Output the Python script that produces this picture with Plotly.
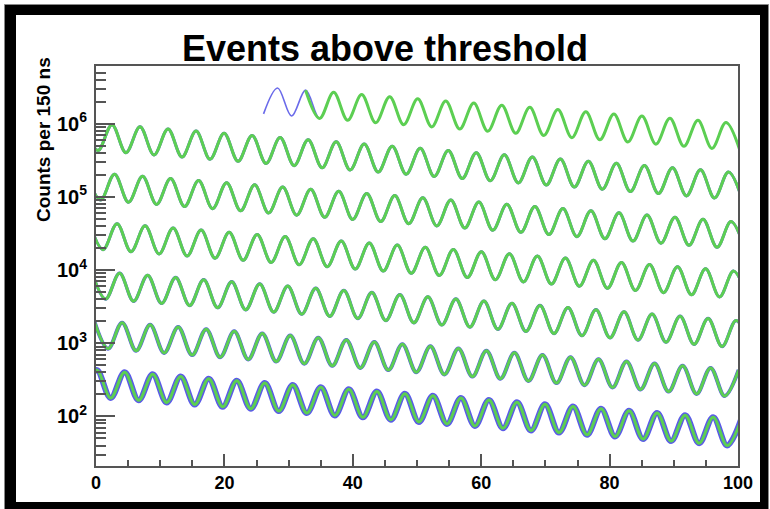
import plotly.graph_objects as go

# ---- data ------------------------------------------------------------------
# Counts per 150 ns at successive maxima / minima of the wiggle,
# one continuous time series wrapped every 100 us (rows 0..6 from top).
wrap_us = 100.0
period_us = 4.365            # time between two maxima
first_trough_us = 26.10      # first recorded extremum (a minimum)
fit_start_us = 32.65         # fit curve (green) drawn from here on

peak_counts = [
    # row 0
    3.07e6, 2.87e6, 2.68e6, 2.50e6, 2.34e6, 2.19e6, 2.04e6, 1.91e6, 1.79e6, 1.67e6,
    1.56e6, 1.46e6, 1.36e6, 1.27e6, 1.19e6, 1.11e6, 1.04e6,
    # row 1
    9.70e5, 9.06e5, 8.47e5, 7.92e5, 7.40e5, 6.91e5, 6.46e5, 6.04e5, 5.64e5, 5.27e5,
    4.93e5, 4.60e5, 4.30e5, 4.02e5, 3.76e5, 3.51e5, 3.28e5, 3.07e5, 2.87e5, 2.68e5,
    2.50e5, 2.34e5, 2.19e5,
    # row 2
    2.04e5, 1.91e5, 1.78e5, 1.67e5, 1.56e5, 1.46e5, 1.36e5, 1.27e5, 1.19e5, 1.11e5,
    1.04e5, 9.70e4, 9.06e4, 8.47e4, 7.91e4, 7.40e4, 6.91e4, 6.46e4, 6.04e4, 5.64e4,
    5.27e4, 4.93e4, 4.60e4,
    # row 3
    4.30e4, 4.02e4, 3.76e4, 3.51e4, 3.28e4, 3.07e4, 2.87e4, 2.68e4, 2.50e4, 2.34e4,
    2.19e4, 2.04e4, 1.91e4, 1.78e4, 1.67e4, 1.56e4, 1.46e4, 1.36e4, 1.27e4, 1.19e4,
    1.11e4, 1.04e4, 9.69e3,
    # row 4
    9.06e3, 8.47e3, 7.91e3, 7.39e3, 6.91e3, 6.46e3, 6.04e3, 5.64e3, 5.27e3, 4.93e3,
    4.60e3, 4.30e3, 4.02e3, 3.76e3, 3.51e3, 3.28e3, 3.07e3, 2.87e3, 2.68e3, 2.50e3,
    2.34e3, 2.18e3, 2.04e3,
    # row 5
    1908, 1783, 1666, 1557, 1455, 1360, 1271, 1188, 1110, 1037,
    969, 906, 846, 791, 739, 691, 645, 603, 564, 527, 492, 460,
    # row 6
    430, 402, 376, 351, 328, 307, 286, 268, 250, 234,
    218, 204, 191, 178, 167, 156, 146, 136, 127, 119, 111, 104, 97, 91,
]

trough_counts = [
    # row 0
    1.36e6, 1.27e6, 1.18e6, 1.11e6, 1.03e6, 9.67e5, 9.03e5, 8.44e5, 7.89e5, 7.37e5,
    6.89e5, 6.44e5, 6.01e5, 5.62e5, 5.25e5, 4.91e5, 4.59e5, 4.29e5,
    # row 1
    4.01e5, 3.74e5, 3.50e5, 3.27e5, 3.06e5, 2.86e5, 2.67e5, 2.49e5, 2.33e5, 2.18e5,
    2.04e5, 1.90e5, 1.78e5, 1.66e5, 1.55e5, 1.45e5, 1.36e5, 1.27e5, 1.18e5, 1.11e5,
    1.03e5, 9.66e4, 9.03e4,
    # row 2
    8.44e4, 7.89e4, 7.37e4, 6.89e4, 6.44e4, 6.02e4, 5.62e4, 5.25e4, 4.91e4, 4.59e4,
    4.29e4, 4.01e4, 3.75e4, 3.50e4, 3.27e4, 3.05e4, 2.86e4, 2.67e4, 2.49e4, 2.33e4,
    2.18e4, 2.04e4, 1.90e4,
    # row 3
    1.78e4, 1.66e4, 1.55e4, 1.45e4, 1.36e4, 1.27e4, 1.18e4, 1.11e4, 1.03e4, 9.66e3,
    9.03e3, 8.44e3, 7.89e3, 7.37e3, 6.88e3, 6.43e3, 6.01e3, 5.62e3, 5.25e3, 4.91e3,
    4.59e3, 4.29e3, 4.01e3,
    # row 4
    3743, 3497, 3269, 3054, 2855, 2667, 2493, 2329, 2177, 2035,
    1902, 1777, 1661, 1552, 1450, 1354, 1267, 1183, 1106, 1034, 966, 902, 843,
    # row 5
    788, 737, 688, 643, 601, 562, 525, 491, 459, 429,
    401, 374, 350, 327, 305, 285, 267, 249, 233, 218, 203, 190, 178,
    # row 6
    166, 155, 145, 135, 127, 118, 111, 103, 97, 90,
    84, 79, 74, 69, 64, 60, 56, 53, 49, 46, 43, 40, 37,
]

n_rows = 7
x_ticks = [0, 20, 40, 60, 80, 100]

# ---- assemble the alternating extremum sequence ---------------------------
counts = [trough_counts[0]]
for p, t in zip(peak_counts, trough_counts[1:]):
    counts += [p, t]
half = period_us / 2.0
times = [first_trough_us + i * half for i in range(len(counts))]

GREEN = "#5ccf52"
BLUE = "#5a5ae8"
FONT = "Liberation Sans, Arial, Helvetica, sans-serif"
blue_width = [1.6, 3.0, 3.0, 3.0, 3.3, 4.0, 6.0]

fig = go.Figure()
for r in range(n_rows):
    lo, hi = r * wrap_us - half - 0.01, (r + 1) * wrap_us + half + 0.01
    sel = [i for i, t in enumerate(times) if lo <= t <= hi]
    xs = [times[i] - r * wrap_us for i in sel]
    ys = [counts[i] for i in sel]
    fig.add_trace(go.Scatter(x=xs, y=ys, mode="lines", line_shape="spline",
                             line=dict(color=BLUE, width=blue_width[r]),
                             opacity=0.9 if r == 0 else 1.0,
                             hoverinfo="skip", showlegend=False))
    fsel = [i for i in sel if times[i] >= fit_start_us - 0.01]
    fig.add_trace(go.Scatter(x=[times[i] - r * wrap_us for i in fsel],
                             y=[counts[i] for i in fsel],
                             mode="lines", line_shape="spline",
                             line=dict(color=GREEN, width=3),
                             hoverinfo="skip", showlegend=False))

# ---- layout ----------------------------------------------------------------
L, R, T, B = 96, 738, 66, 466
W, H = 770, 509


def px(xp):
    return (xp - L) / (R - L)


def py(yp):
    return (B - yp) / (B - T)


AX = "#555555"
fig.update_layout(
    width=W, height=H,
    margin=dict(l=L, r=W - R, t=T, b=H - B, pad=0),
    paper_bgcolor="white", plot_bgcolor="white",
    title=dict(text="<b>Events above threshold</b>", x=0.5, xref="container",
               xanchor="center", y=(H - 48.5) / H, yref="container", yanchor="middle",
               font=dict(family=FONT, size=36, color="black")),
    xaxis=dict(range=[0, 100], tickvals=x_ticks, ticks="inside", ticklen=12,
               tickwidth=1.5, tickcolor=AX, showline=True, linecolor=AX, linewidth=1.5,
               mirror=True, showgrid=False, zeroline=False,
               minor=dict(dtick=5, tick0=0, ticks="inside", ticklen=6,
                          tickwidth=1.5, tickcolor=AX, showgrid=False),
               tickfont=dict(family=FONT, size=18, color="black", weight="bold")),
    yaxis=dict(type="log", range=[1.322, 6.788], dtick=1, exponentformat="power",
               ticks="inside", ticklen=19, tickwidth=1.5, tickcolor=AX,
               showline=True, linecolor=AX, linewidth=1.5, mirror=True,
               showgrid=False, zeroline=False, ticklabelstandoff=4,
               minor=dict(dtick="D1", ticks="inside", ticklen=10, tickwidth=1.5,
                          tickcolor=AX, showgrid=False),
               tickfont=dict(family=FONT, size=16, color="black", weight="bold")),
    shapes=[
        dict(type="rect", xref="paper", yref="paper", layer="below",
             x0=px(4.5), x1=px(768.5), y0=py(4.5), y1=py(530),
             fillcolor="black", line=dict(color="#888888", width=1)),
        dict(type="rect", xref="paper", yref="paper", layer="below",
             x0=px(16), x1=px(760), y0=py(15), y1=py(502),
             fillcolor="white", line=dict(width=0)),
    ],
    annotations=[
        dict(text="<b>Counts per 150 ns</b>", textangle=-90, xref="paper", yref="paper",
             x=px(43), y=py(140), xanchor="center", yanchor="middle", showarrow=False,
             font=dict(family=FONT, size=19, color="black")),
    ],
)

fig.write_html("out.html")
